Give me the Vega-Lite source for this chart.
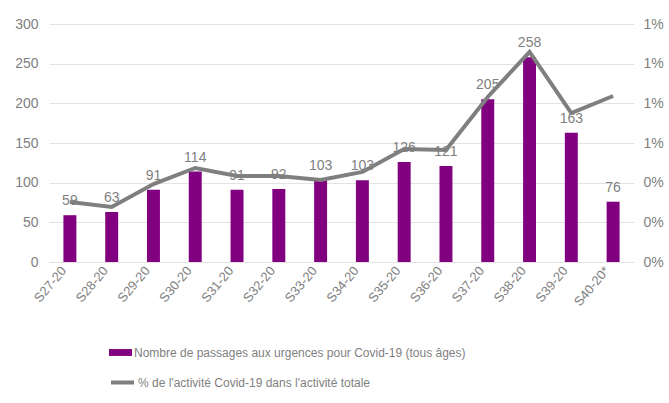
{
  "$schema": "https://vega.github.io/schema/vega-lite/v6.json",
  "width": 585,
  "height": 238,
  "autosize": {"type": "none"},
  "padding": {"left": 49, "top": 24, "right": 35, "bottom": 141},
  "background": "white",
  "config": {
    "font": "Liberation Sans",
    "view": {"stroke": null},
    "axis": {"labelColor": "#7f7f7f", "labelFont": "Liberation Sans", "domain": false, "ticks": false},
    "legend": {"labelColor": "#7f7f7f", "labelFont": "Liberation Sans", "padding": 0, "labelLimit": 600}
  },
  "data": {
    "values": [
      {"semaine": "S27-20", "passages": 59, "pct": 0.00302},
      {"semaine": "S28-20", "passages": 63, "pct": 0.00277},
      {"semaine": "S29-20", "passages": 91, "pct": 0.00393},
      {"semaine": "S30-20", "passages": 114, "pct": 0.00474},
      {"semaine": "S31-20", "passages": 91, "pct": 0.00434},
      {"semaine": "S32-20", "passages": 92, "pct": 0.00434},
      {"semaine": "S33-20", "passages": 103, "pct": 0.00413},
      {"semaine": "S34-20", "passages": 103, "pct": 0.00454},
      {"semaine": "S35-20", "passages": 126, "pct": 0.0057},
      {"semaine": "S36-20", "passages": 121, "pct": 0.00565},
      {"semaine": "S37-20", "passages": 205, "pct": 0.00832},
      {"semaine": "S38-20", "passages": 258, "pct": 0.01059},
      {"semaine": "S39-20", "passages": 163, "pct": 0.00751},
      {"semaine": "S40-20*", "passages": 76, "pct": 0.00837}
    ]
  },
  "encoding": {
    "x": {
      "field": "semaine",
      "type": "nominal",
      "sort": null,
      "scale": {"paddingInner": 0.69, "paddingOuter": 0.345},
      "axis": {"title": null, "labelAngle": -50, "labelFontSize": 13, "labelPadding": 6, "labelOffset": -6, "grid": false}
    }
  },
  "layer": [
    {
      "mark": {"type": "bar"},
      "encoding": {
        "y": {
          "field": "passages",
          "type": "quantitative",
          "scale": {"domain": [0, 300]},
          "axis": {"title": null, "orient": "left", "values": [0, 50, 100, 150, 200, 250, 300], "grid": true, "gridColor": "#e3e3e3", "gridWidth": 1.2, "labelFontSize": 14, "labelPadding": 11}
        },
        "fill": {
          "datum": "Nombre de passages aux urgences pour Covid-19 (tous âges)",
          "type": "nominal",
          "scale": {"range": ["#800080"]},
          "legend": {"title": null, "orient": "none", "legendX": 60, "legendY": 317, "labelFontSize": 12, "symbolType": "M-1,-0.3H1V0.3H-1Z", "symbolSize": 529, "symbolStrokeWidth": 0, "labelOffset": 2}
        }
      }
    },
    {
      "mark": {"type": "text", "baseline": "alphabetic", "dy": -10, "fontSize": 14, "color": "#7f7f7f"},
      "encoding": {
        "y": {"field": "passages", "type": "quantitative", "scale": {"domain": [0, 300]}, "axis": null},
        "text": {"field": "passages", "type": "quantitative"}
      }
    },
    {
      "mark": {"type": "line", "strokeWidth": 4},
      "encoding": {
        "y": {
          "field": "pct",
          "type": "quantitative",
          "scale": {"domain": [0, 0.012]},
          "axis": {"title": null, "orient": "right", "format": ".0%", "values": [0, 0.002, 0.004, 0.006, 0.008, 0.01, 0.012], "grid": false, "labelFontSize": 14, "labelPadding": 9}
        },
        "stroke": {
          "datum": "% de l'activité Covid-19 dans l'activité totale",
          "type": "nominal",
          "scale": {"range": ["#7f7f7f"]},
          "legend": {"title": null, "orient": "none", "legendX": 60, "legendY": 345, "labelFontSize": 12, "symbolType": "stroke", "symbolSize": 529, "symbolStrokeWidth": 4, "labelOffset": 2}
        }
      }
    }
  ],
  "resolve": {"scale": {"y": "independent", "fill": "independent", "stroke": "independent"}}
}
